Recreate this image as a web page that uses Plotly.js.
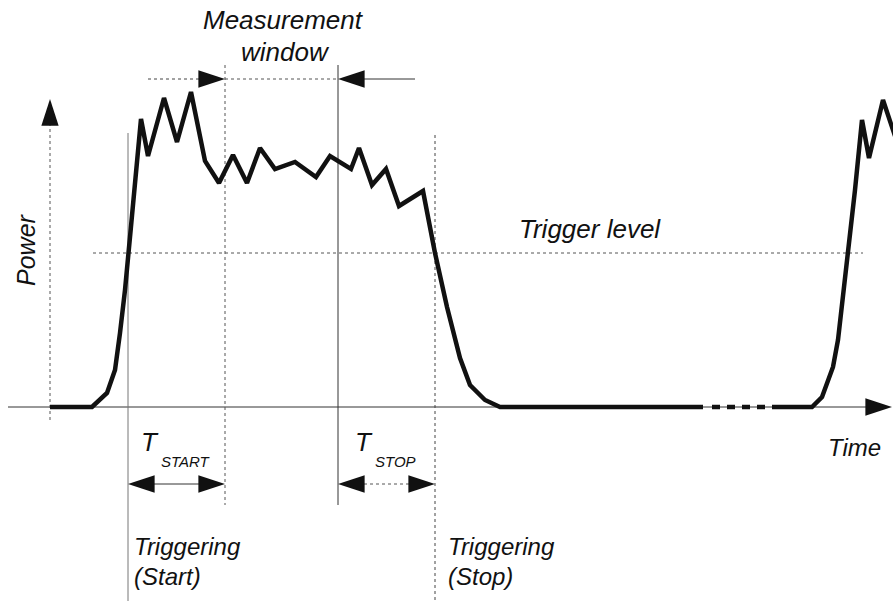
<!DOCTYPE html>
<html>
<head>
<meta charset="utf-8">
<script src="https://cdn.plot.ly/plotly-3.0.1.min.js"></script>
<style>html,body{margin:0;padding:0;background:#fff;}#chart{width:893px;height:601px;}</style>
</head>
<body>
<div id="chart"></div>
<script>
// ---- Data (time in arbitrary units, power relative to the zero baseline) ----
const pulse1Time  = [50, 92, 107, 115, 120, 125, 130, 136, 141, 148, 164, 177, 191, 205, 219, 233, 247, 260, 275, 295, 316, 330, 351, 359, 372, 386, 399, 423, 435, 447, 460, 470, 485, 500, 703];
const pulse1Power = [0, 0, 14, 37, 74, 117, 170, 237, 288, 251, 309, 265, 315, 246, 224, 252, 224, 259, 238, 245, 230, 251, 238, 259, 222, 238, 201, 216, 154, 100, 49, 22, 7, 0, 0];
const gapTime  = [712, 767];
const gapPower = [0, 0];
const pulse2Time  = [772, 812, 822, 828, 833, 838, 845, 855, 862, 869, 883, 897];
const pulse2Power = [0, 0, 10, 25, 40, 67, 127, 217, 287, 249, 307, 265];

const triggerLevel = 154;
const tTriggerStart = 128;
const tWindowStart = 225;
const tWindowEnd = 338;
const tTriggerStop = 435;
const timeAxisEnd = 892;
const powerAxisTop = 308;
const windowArrowLevel = 328;
const intervalArrowLevel = -77;

const labels = {
  title1: 'Measurement', title2: 'window',
  power: 'Power', trigger: 'Trigger level', time: 'Time',
  tStart: 'START', tStop: 'STOP',
  trig: 'Triggering', start: '(Start)', stop: '(Stop)'
};

// arrow heads: tip positions derived from the named values above, direction in degrees
const headX = [timeAxisEnd, 50, tWindowStart, tWindowEnd, tTriggerStart, tWindowStart, tWindowEnd, tTriggerStop];
const headY = [0, powerAxisTop, windowArrowLevel, windowArrowLevel, intervalArrowLevel, intervalArrowLevel, intervalArrowLevel, intervalArrowLevel];
const headDir = [90, 0, 90, 270, 270, 90, 270, 90];

// ---- Figure ----
const FONT = 'Liberation Sans, Arial, Helvetica, sans-serif';
const lineStyle = {color: '#111', width: 4.5};

const traces = [
  {x: pulse1Time, y: pulse1Power, mode: 'lines', line: lineStyle, hoverinfo: 'skip'},
  {x: gapTime, y: gapPower, mode: 'lines', line: {color: '#111', width: 4.5, dash: '8px,7px'}, hoverinfo: 'skip'},
  {x: pulse2Time, y: pulse2Power, mode: 'lines', line: lineStyle, hoverinfo: 'skip'},
  {x: headX, y: headY, mode: 'markers', hoverinfo: 'skip', cliponaxis: false,
   marker: {symbol: 'arrow', size: 28, angle: headDir, color: '#111', line: {width: 0}}}
];

function seg(x0, y0, x1, y1, color, dash) {
  return {type: 'line', xref: 'x', yref: 'y', x0: x0, x1: x1, y0: y0, y1: y1,
          line: {color: color, width: 1, dash: dash || 'solid'}, layer: 'below'};
}
const shapes = [
  seg(8, 0, timeAxisEnd - 8, 0, '#333'),                       // time axis
  seg(50, -13, 50, powerAxisTop - 8, '#555', 'dot'),           // power axis
  seg(tTriggerStart, 274, tTriggerStart, -194, '#777'),
  seg(tWindowStart, 342, tWindowStart, -98, '#555', 'dot'),
  seg(tWindowEnd, 342, tWindowEnd, -98, '#333'),
  seg(tTriggerStop, 272, tTriggerStop, -194, '#444', 'dot'),
  seg(93, triggerLevel, 863, triggerLevel, '#555', 'dot'),
  seg(148, windowArrowLevel, tWindowStart - 8, windowArrowLevel, '#444', 'dot'),
  seg(tWindowStart, windowArrowLevel, tWindowEnd, windowArrowLevel, '#555', 'dot'),
  seg(tWindowEnd + 8, windowArrowLevel, 415, windowArrowLevel, '#333'),
  seg(tTriggerStart + 8, intervalArrowLevel, tWindowStart - 8, intervalArrowLevel, '#333'),
  seg(tWindowEnd + 8, intervalArrowLevel, tTriggerStop - 8, intervalArrowLevel, '#555', 'dot')
];

function label(text, x, y, size, xanchor, angle) {
  return {x: x, y: y, xref: 'x', yref: 'y', text: '<i>' + text + '</i>', showarrow: false,
          xanchor: xanchor || 'center', yanchor: 'middle', textangle: angle || 0,
          font: {family: FONT, size: size, color: '#111'}};
}

const annotations = [
  label(labels.title1, 283, 387, 26),
  label(labels.title2, 285, 355, 26),
  label(labels.power, 26, 157, 25, 'center', -90),
  label(labels.trigger, 517, 178, 26, 'left'),
  label(labels.time, 854, -40, 24),
  label('T', 150, -35, 26),
  label(labels.tStart, 159, -54, 15, 'left'),
  label('T', 364, -35, 26),
  label(labels.tStop, 373, -54, 15, 'left'),
  label(labels.trig, 132, -139, 24, 'left'),
  label(labels.start, 132, -169, 24, 'left'),
  label(labels.trig, 446, -139, 24, 'left'),
  label(labels.stop, 446, -169, 24, 'left')
];

const layout = {
  width: 893, height: 601,
  margin: {l: 0, r: 0, t: 0, b: 0},
  paper_bgcolor: '#fff', plot_bgcolor: '#fff',
  showlegend: false,
  xaxis: {range: [0, 893], visible: false, fixedrange: true},
  yaxis: {range: [-194, 407], visible: false, fixedrange: true},
  shapes: shapes,
  annotations: annotations
};

Plotly.newPlot('chart', traces, layout, {staticPlot: true, displayModeBar: false});
</script>
</body>
</html>
